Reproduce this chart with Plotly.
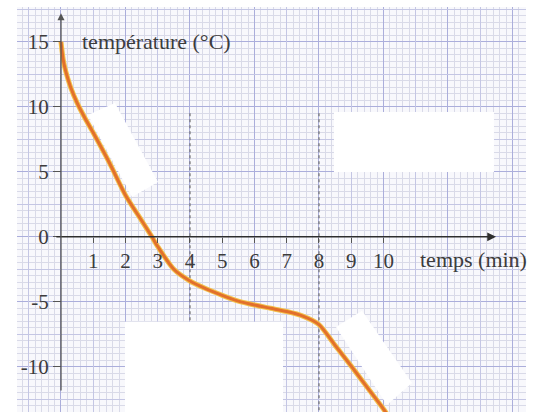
import plotly.graph_objects as go

# ---- data ----
temps_min = [0, 0.07, 0.15, 0.3, 0.5, 0.75, 1.0, 1.5, 2.0, 2.5, 2.82, 3.0, 3.5, 4.0,
             4.5, 5.0, 5.5, 6.0, 6.5, 7.0, 7.5, 8.0, 8.5, 9.0, 9.5, 10.0, 10.15]
temperature = [15, 13.6, 12.7, 11.5, 10.3, 9.1, 8.0, 5.7, 3.2, 1.25, 0.0, -0.75, -2.5, -3.4,
               -4.0, -4.5, -4.95, -5.25, -5.5, -5.75, -6.1, -6.75, -8.35, -9.95, -11.6, -13.25, -13.8]
x_tick_vals = [1, 2, 3, 4, 5, 6, 7, 8, 9, 10]
y_tick_vals = [-10, -5, 0, 5, 10, 15]
y_tick_text = ["-10", "-5", "0", "5", "10", "15"]
x_title = "temps (min)"
y_title = "température (°C)"

W, H = 534, 412
ML, MR, MT, MB = 17, 8, 7, 0
X_RANGE = [-1.364, 14.419]
Y_RANGE = [-13.477, 17.677]

FONT = "Liberation Serif"
TXT = "#3c3c3c"
FINE = "#d9dae8"
MED = "#c4c6e4"
MAJ = "#abaedb"

fig = go.Figure()

# soft yellow rim + orange core for the cooling curve
fig.add_trace(go.Scatter(x=temps_min, y=temperature, mode="lines",
                         line=dict(color="#f3c04a", width=5, shape="spline", smoothing=0.7),
                         hoverinfo="skip", showlegend=False))
fig.add_trace(go.Scatter(x=temps_min, y=temperature, mode="lines",
                         line=dict(color="#e2702c", width=3, shape="spline", smoothing=0.7),
                         showlegend=False))
# dummy traces so the overlay axes exist
fig.add_trace(go.Scatter(x=[None], y=[None], xaxis="x2", yaxis="y2", showlegend=False))
fig.add_trace(go.Scatter(x=[None], y=[None], xaxis="x3", yaxis="y3", showlegend=False))

x_med = [v for v in range(-1, 15) if v % 2 != 0]
y_med = [-12.5, -7.5, -2.5, 2.5, 7.5, 12.5, 17.5]

fig.update_layout(
    template="none",
    width=W, height=H,
    margin=dict(l=ML, r=MR, t=MT, b=MB),
    paper_bgcolor="white",
    plot_bgcolor="#f8f8fc",
    showlegend=False,
    xaxis=dict(range=X_RANGE, showgrid=True, tick0=0, dtick=2, gridcolor=MAJ, gridwidth=1,
               minor=dict(tick0=0, dtick=0.2, showgrid=True, gridcolor=FINE, gridwidth=1),
               showticklabels=False, ticks="", zeroline=False, showline=False, automargin=False),
    yaxis=dict(range=Y_RANGE, showgrid=True, tick0=0, dtick=5, gridcolor=MAJ, gridwidth=1,
               minor=dict(tick0=0, dtick=0.5, showgrid=True, gridcolor=FINE, gridwidth=1),
               showticklabels=False, ticks="", zeroline=False, showline=False, automargin=False),
    xaxis2=dict(overlaying="x", range=X_RANGE, tickmode="array", tickvals=x_med,
                showgrid=True, gridcolor=MED, gridwidth=1, showticklabels=False, ticks="",
                zeroline=False, showline=False, automargin=False),
    yaxis2=dict(overlaying="y", range=Y_RANGE, tickmode="array", tickvals=y_med,
                showgrid=True, gridcolor=MED, gridwidth=1, showticklabels=False, ticks="",
                zeroline=False, showline=False, automargin=False),
    xaxis3=dict(overlaying="x", range=X_RANGE, anchor="free",
                position=(H - MB - 236.8) / (H - MT - MB),
                tickmode="array", tickvals=x_tick_vals, showgrid=False, zeroline=False,
                showline=False, ticks="outside", ticklen=5, tickwidth=1, tickcolor="#555",
                tickfont=dict(family=FONT, size=21, color=TXT), automargin=False),
    yaxis3=dict(overlaying="y", range=Y_RANGE, anchor="free",
                position=(61 - ML) / (W - ML - MR),
                tickmode="array", tickvals=y_tick_vals, ticktext=y_tick_text,
                showgrid=False, zeroline=False,
                showline=False, ticks="outside", ticklen=8, tickwidth=1.2, tickcolor="#555",
                tickfont=dict(family=FONT, size=21, color=TXT), automargin=False),
)

shapes = []
# dotted guide lines
for xv in (4, 8):
    shapes.append(dict(type="line", xref="x", yref="y", x0=xv, x1=xv, y0=9.5, y1=Y_RANGE[0],
                       line=dict(color="#707070", width=1.2, dash="dot"), layer="between"))
# white label boxes (blank)
def poly(pts):
    return "M " + " L ".join(f"{a},{b}" for a, b in pts) + " Z"

white = dict(fillcolor="white", line=dict(width=0), layer="between", xref="x", yref="y")
shapes.append(dict(type="path", path=poly([(0.837, 9.37), (1.674, 10.29), (3.008, 4.22), (2.202, 3.06)]), **white))
shapes.append(dict(type="rect", x0=8.465, x1=13.426, y0=4.98, y1=9.6, **white))
shapes.append(dict(type="rect", x0=1.984, x1=6.884, y0=-14.5, y1=-6.53, **white))
shapes.append(dict(type="path", path=poly([(8.527, -6.93), (9.333, -5.68), (10.884, -11.25), (10.109, -12.94)]), **white))
fig.update_layout(shapes=shapes)

# axis lines with arrow heads
fig.add_annotation(x=13.49, y=0, ax=-0.19, ay=0, xref="x", yref="y", axref="x", ayref="y",
                   text="", showarrow=True, arrowhead=2, arrowsize=1.1, arrowwidth=1.6,
                   arrowcolor="#2e2e2e", standoff=0)
fig.add_annotation(x=0, y=17.2, ax=0, ay=-11.94, xref="x", yref="y", axref="x", ayref="y",
                   text="", showarrow=True, arrowhead=2, arrowsize=1.1, arrowwidth=1.3,
                   arrowcolor="#555", standoff=0)
# axis titles
fig.add_annotation(x=0.59, y=15, xref="x", yref="y", text=y_title, showarrow=False,
                   xanchor="left", yanchor="middle", font=dict(family=FONT, size=22, color=TXT))
fig.add_annotation(x=11.07, y=-1.71, xref="x", yref="y", text=x_title, showarrow=False,
                   xanchor="left", yanchor="middle", font=dict(family=FONT, size=22, color=TXT))

fig.write_html("out.html", config={"displayModeBar": False},
               post_script="document.body.style.margin='0';")
